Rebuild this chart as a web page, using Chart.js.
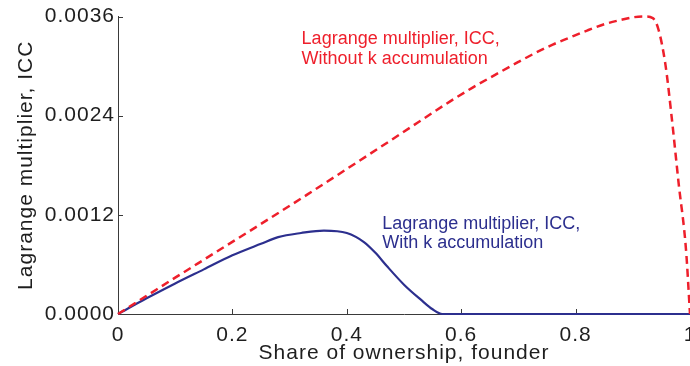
<!DOCTYPE html>
<html>
<head>
<meta charset="utf-8">
<script src="https://cdn.jsdelivr.net/npm/chart.js@4.4.1/dist/chart.umd.min.js"></script>
<style>
  html, body { margin: 0; padding: 0; background: #ffffff; overflow: hidden; width: 690px; height: 366px; }
  #c { display: block; }
</style>
</head>
<body>
<canvas id="c" width="690" height="366"></canvas>
<script>
// Founder ownership share and the ICC Lagrange multiplier, with k accumulation
const shareWith = [0, 0.05, 0.10, 0.15, 0.20, 0.25, 0.28, 0.32, 0.36, 0.40, 0.43, 0.45, 0.47, 0.50, 0.53, 0.55, 0.567, 0.60, 0.70, 0.80, 0.90, 1.00];
const lambdaWith = [0, 0.00019, 0.00037, 0.00054, 0.00071, 0.00085, 0.00093, 0.00098, 0.00101, 0.00098, 0.00087, 0.00074, 0.00058, 0.000355, 0.00017, 0.000057, 0, 0, 0, 0, 0, 0];

// ... and without k accumulation
const shareWithout = [0, 0.05, 0.10, 0.16, 0.25, 0.332, 0.41, 0.492, 0.58, 0.62, 0.666, 0.70, 0.73, 0.76, 0.788, 0.82, 0.852, 0.88, 0.90, 0.92, 0.935, 0.945, 0.957, 0.968, 0.98, 0.993, 1.00];
const lambdaWithout = [0, 0.00022, 0.00044, 0.00070, 0.00109, 0.00145, 0.00180, 0.00217, 0.00257, 0.00274, 0.00292, 0.00305, 0.00316, 0.00326, 0.00334, 0.00343, 0.00351, 0.00356, 0.00359, 0.00360, 0.00358, 0.00344, 0.00302, 0.00238, 0.00159, 0.00078, 0];

const xTicks = [0, 0.2, 0.4, 0.6, 0.8, 1];
const xTickLabels = ['0', '0.2', '0.4', '0.6', '0.8', '1'];
const yTicks = [0, 0.0012, 0.0024, 0.0036];
const yTickLabels = ['0.0000', '0.0012', '0.0024', '0.0036'];

const RED = '#ee1f2b';
const BLUE = '#2c2f8e';
const AXIS = '#3a3a3a';
const TEXT = '#1e1e1e';

const toPoints = (xs, ys) => xs.map((x, i) => ({ x: x, y: ys[i] }));

// Axis text is set slightly tracked out
const spacing = {
  id: 'spacing',
  beforeLayout(chart) { chart.ctx.letterSpacing = '1px'; },
  beforeDraw(chart) { chart.ctx.letterSpacing = '1px'; }
};

// Short tick marks pointing into the plot
const innerTicks = {
  id: 'innerTicks',
  beforeDatasetsDraw(chart) {
    const { ctx, chartArea, scales } = chart;
    ctx.save();
    ctx.strokeStyle = AXIS;
    ctx.lineWidth = 1;
    ctx.beginPath();
    xTicks.forEach(v => {
      const px = Math.round(scales.x.getPixelForValue(v)) + 0.5;
      ctx.moveTo(px, chartArea.bottom);
      ctx.lineTo(px, chartArea.bottom - 5);
    });
    yTicks.forEach(v => {
      const py = Math.round(scales.y.getPixelForValue(v)) + 0.5;
      ctx.moveTo(chartArea.left, py);
      ctx.lineTo(chartArea.left + 5, py);
    });
    ctx.stroke();
    ctx.restore();
  }
};

// Curve labels anchored in data coordinates
const curveLabels = {
  id: 'curveLabels',
  afterDatasetsDraw(chart) {
    const { ctx, scales } = chart;
    ctx.save();
    ctx.letterSpacing = '0px';
    ctx.font = '18px "Liberation Sans", Arial, sans-serif';
    ctx.textAlign = 'left';
    ctx.textBaseline = 'alphabetic';

    let x = scales.x.getPixelForValue(0.321);
    let y = scales.y.getPixelForValue(0.003267);
    ctx.fillStyle = RED;
    ctx.fillText('Lagrange multiplier, ICC,', x, y);
    ctx.fillText('Without k accumulation', x, y + 20);

    x = scales.x.getPixelForValue(0.462);
    y = scales.y.getPixelForValue(0.001027);
    ctx.fillStyle = BLUE;
    ctx.fillText('Lagrange multiplier, ICC,', x, y);
    ctx.fillText('With k accumulation', x, y + 19);
    ctx.restore();
  }
};

const axisFont = { family: '"Liberation Sans", Arial, sans-serif', size: 21 };

new Chart(document.getElementById('c'), {
  type: 'line',
  data: {
    datasets: [
      {
        label: 'Without k accumulation',
        data: toPoints(shareWithout, lambdaWithout),
        borderColor: RED,
        borderWidth: 2.5,
        borderDash: [8, 5],
        pointRadius: 0,
        fill: false,
        cubicInterpolationMode: 'monotone',
        clip: false
      },
      {
        label: 'With k accumulation',
        data: toPoints(shareWith, lambdaWith),
        borderColor: BLUE,
        borderWidth: 2.2,
        pointRadius: 0,
        fill: false,
        cubicInterpolationMode: 'monotone',
        clip: false
      }
    ]
  },
  options: {
    responsive: false,
    animation: false,
    events: [],
    layout: { padding: { top: 16.5, right: -1.5, left: 0, bottom: 0 } },
    plugins: { legend: { display: false }, tooltip: { enabled: false } },
    scales: {
      x: {
        type: 'linear',
        min: 0,
        max: 1,
        afterBuildTicks: s => { s.ticks = xTicks.map(v => ({ value: v })); },
        afterFit: s => { s.height = 52; s.paddingLeft = 0; s.paddingRight = 0; },
        ticks: {
          callback: (v, i) => xTickLabels[i],
          font: axisFont,
          color: TEXT,
          padding: 9,
          maxRotation: 0,
          autoSkip: false
        },
        grid: { display: true, drawOnChartArea: false, drawTicks: false },
        border: { display: true, color: AXIS, width: 1 },
        title: {
          display: true,
          text: 'Share of ownership, founder',
          font: axisFont,
          color: TEXT,
          padding: { top: 0, bottom: 0 }
        }
      },
      y: {
        type: 'linear',
        min: 0,
        max: 0.0036,
        afterBuildTicks: s => { s.ticks = yTicks.map(v => ({ value: v })); },
        afterFit: s => { s.width = 118; s.paddingTop = 0; s.paddingBottom = 0; },
        ticks: {
          callback: (v, i) => yTickLabels[i],
          font: axisFont,
          color: TEXT,
          padding: 3,
          autoSkip: false
        },
        grid: { display: true, drawOnChartArea: false, drawTicks: false },
        border: { display: true, color: AXIS, width: 1 },
        title: {
          display: true,
          text: 'Lagrange multiplier, ICC',
          font: axisFont,
          color: TEXT,
          padding: { top: 14, bottom: 0 }
        }
      }
    }
  },
  plugins: [spacing, innerTicks, curveLabels]
});
</script>
</body>
</html>
